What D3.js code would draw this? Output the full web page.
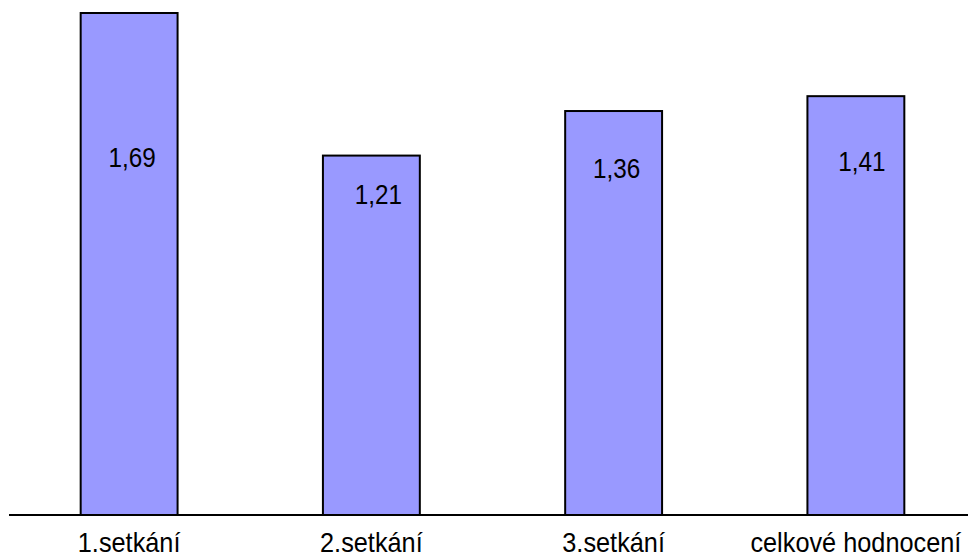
<!DOCTYPE html>
<html>
<head>
<meta charset="utf-8">
<script src="https://cdn.jsdelivr.net/npm/d3@7"></script>
<style>
  html, body { margin: 0; padding: 0; background: #fff; }
  svg { display: block; }
  text { font-family: "Liberation Sans", Arial, sans-serif; fill: #000; }
</style>
</head>
<body>
<svg id="chart" width="968" height="558"></svg>
<script>
const categories = ["1.setkání", "2.setkání", "3.setkání", "celkové hodnocení"];
const values = [1.69, 1.21, 1.36, 1.41];
const valueLabels = ["1,69", "1,21", "1,36", "1,41"];

// layout (not data): label baselines and horizontal nudges as in the reference
const labelBaselineY = [167, 204, 178, 171];
const labelNudgeX = [3, 7, 3, 6];

const svg = d3.select("#chart");
const baseY = 515;

const x = d3.scaleBand()
  .domain(categories)
  .range([8, 977])
  .paddingInner(0.6)
  .paddingOuter(0.3);

const y = d3.scaleLinear()
  .domain([0, 1.69])
  .range([baseY, 13]);

const data = categories.map((c, i) => ({ c, v: values[i], label: valueLabels[i], i }));

svg.selectAll("rect.bar")
  .data(data)
  .join("rect")
  .attr("class", "bar")
  .attr("x", d => x(d.c))
  .attr("y", d => y(d.v))
  .attr("width", x.bandwidth())
  .attr("height", d => baseY - y(d.v))
  .attr("fill", "#9999FF")
  .attr("stroke", "#000")
  .attr("stroke-width", 2);

svg.append("line")
  .attr("x1", 9).attr("x2", 968)
  .attr("y1", baseY).attr("y2", baseY)
  .attr("stroke", "#000")
  .attr("stroke-width", 2);

svg.selectAll("text.val")
  .data(data)
  .join("text")
  .attr("class", "val")
  .attr("transform", d => `translate(${x(d.c) + x.bandwidth() / 2 + labelNudgeX[d.i]},${labelBaselineY[d.i]}) scale(1,1.1)`)
  .attr("text-anchor", "middle")
  .attr("font-size", 24.3)
  .text(d => d.label);

svg.selectAll("text.cat")
  .data(data)
  .join("text")
  .attr("class", "cat")
  .attr("transform", d => `translate(${x(d.c) + x.bandwidth() / 2},552) scale(1,1.08)`)
  .attr("text-anchor", "middle")
  .attr("font-size", 25.3)
  .text(d => d.c);
</script>
</body>
</html>
